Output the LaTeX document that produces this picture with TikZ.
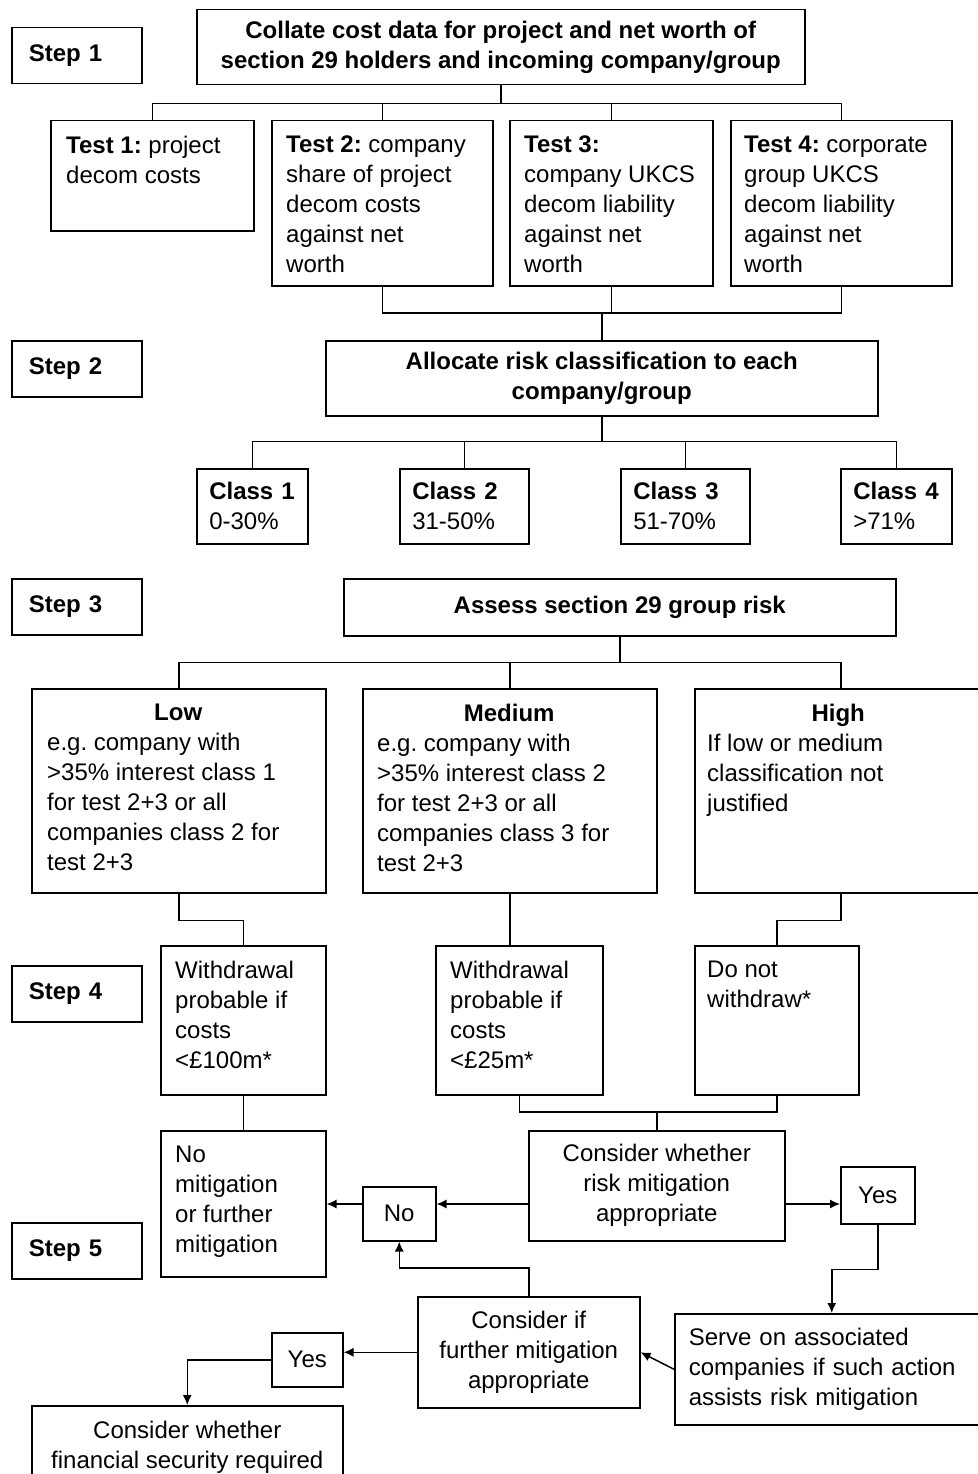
\documentclass[tikz,border=0pt]{standalone}
\usepackage{fontspec}
\setmainfont{Liberation Sans}
\usetikzlibrary{arrows.meta}

\tikzset{
  box/.style={draw, line width=1.5pt, anchor=north west, inner sep=0pt},
  txt/.style={anchor=north west, align=left, inner sep=0pt},
  link/.style={line width=1.5pt},
  arr/.style={line width=1.5pt, -{Latex[length=10pt,width=9pt]}},
}

\begin{document}
\begin{tikzpicture}[x=1pt,y=-1pt,font=\fontsize{24pt}{30pt}\selectfont\frenchspacing]
  \useasboundingbox (0,0) rectangle (977,1474);
  % step labels down the left side
  \foreach \s/\y in {1/27,2/340,3/578,4/965,5/1222}
    \node[box, text width=96pt, inner xsep=17pt, minimum height=56pt, align=left] (step\s) at (11,\y) {\textbf{Step \s}};

  % step 1
  \node[box, minimum width=608pt, minimum height=75pt, align=center] (collate) at (196,9)
    {\textbf{Collate cost data for project and net worth of}\\\textbf{section 29 holders and incoming company/group}};
  \node[box, minimum width=203pt, minimum height=110pt] (test1) at (50,120) {};
  \node[box, minimum width=221pt, minimum height=165pt] (test2) at (271,120) {};
  \node[box, minimum width=203pt, minimum height=165pt] (test3) at (509,120) {};
  \node[box, minimum width=221pt, minimum height=165pt] (test4) at (730,120) {};
  \node[txt] (test1txt) at ([shift={(16pt,-16pt)}]test1.north west) {\textbf{Test 1:} project\\decom costs};
  \node[txt] (test2txt) at ([shift={(15pt,-16pt)}]test2.north west) {\textbf{Test 2:} company\\share of project\\decom costs\\against net\\worth};
  \node[txt] (test3txt) at ([shift={(15pt,-16pt)}]test3.north west) {\textbf{Test 3:}\\company UKCS\\decom liability\\against net\\worth};
  \node[txt] (test4txt) at ([shift={(14pt,-16pt)}]test4.north west) {\textbf{Test 4:} corporate\\group UKCS\\decom liability\\against net\\worth};

  % step 2
  \node[box, minimum width=552pt, minimum height=75pt, align=center] (alloc) at (325,340)
    {\textbf{Allocate risk classification to each}\\\textbf{company/group}};
  \foreach \n/\x/\tw/\p in {1/196/86/0-30\%,2/399/104/31-50\%,3/620/104/51-70\%,4/840/86/>71\%}
    \node[box, text width=\tw pt, inner xsep=12.5pt, minimum height=75pt, align=left] (class\n) at (\x,468) {\textbf{Class \n}\\\p};

  % step 3
  \node[box, minimum width=552pt, minimum height=57pt, align=center] (assess) at (343,578) {\textbf{Assess section 29 group risk}};
  \node[box, minimum width=294pt, minimum height=204pt] (low) at (31,688) {};
  \node[box, minimum width=294pt, minimum height=204pt] (medium) at (362,688) {};
  \node[box, minimum width=292pt, minimum height=204pt] (high) at (694,688) {};
  \node[txt] (lowtxt) at ([shift={(16pt,-16pt)}]low.north west)
    {\makebox[262pt]{\textbf{Low}}\\e.g. company with\\>35\% interest class 1\\for test 2+3 or all\\companies class 2 for\\test 2+3};
  \node[txt] (mediumtxt) at ([shift={(15pt,-16pt)}]medium.north west)
    {\makebox[264pt]{\textbf{Medium}}\\e.g. company with\\>35\% interest class 2\\for test 2+3 or all\\companies class 3 for\\test 2+3};
  \node[txt] (hightxt) at ([shift={(13pt,-16pt)}]high.north west)
    {\makebox[262pt]{\textbf{High}}\\If low or medium\\classification not\\justified};

  % step 4
  \node[box, minimum width=165pt, minimum height=149pt] (wd1) at (160,945) {};
  \node[box, minimum width=167pt, minimum height=149pt] (wd2) at (435,945) {};
  \node[box, minimum width=164pt, minimum height=149pt] (donot) at (694,945) {};
  \node[txt] (wd1txt) at ([shift={(15pt,-16pt)}]wd1.north west) {Withdrawal\\probable if\\costs\\<£100m*};
  \node[txt] (wd2txt) at ([shift={(15pt,-16pt)}]wd2.north west) {Withdrawal\\probable if\\costs\\<£25m*};
  \node[txt] (donottxt) at ([shift={(13pt,-16pt)}]donot.north west) {Do not\\withdraw*};

  % step 5
  \node[box, minimum width=165pt, minimum height=146pt] (nomit) at (160,1130) {};
  \node[txt] (nomittxt) at ([shift={(15pt,-16pt)}]nomit.north west) {No\\mitigation\\or further\\mitigation};
  \node[box, minimum width=256pt, minimum height=110pt, align=center] (consider) at (528,1130) {Consider whether\\risk mitigation\\appropriate};
  \node[box, minimum width=73pt, minimum height=54pt] (no) at (362,1186) {No};
  \node[box, minimum width=74pt, minimum height=57pt] (yes) at (840,1166) {Yes};
  \node[box, minimum width=222pt, minimum height=111pt, align=center] (further) at (417,1296) {Consider if\\further mitigation\\appropriate};
  \node[box, text width=286pt, inner xsep=14pt, minimum height=111pt, align=left] (serve) at (674,1313)
    {Serve on associated\\companies if such action\\assists risk mitigation};
  \node[box, minimum width=71pt, minimum height=54pt] (yes2) at (271,1332) {Yes};
  \node[box, minimum width=311pt, minimum height=90pt] (fin) at (31,1405) {};
  \node[txt, anchor=north, align=center] (fintxt) at ([yshift=-16pt]fin.north) {Consider whether\\financial security required};

  % connectors
  \foreach \t in {test1,test2,test3,test4}
    \draw[link] (collate.south) -- ++(0,18) -| (\t.north);
  \foreach \t in {test2,test3,test4}
    \draw[link] (\t.south) |- ([yshift=27pt]alloc.north) -- (alloc.north);
  \foreach \n in {1,...,4}
    \draw[link] (alloc.south) -- ++(0,25) -| (class\n.north);
  \foreach \t in {low,medium,high}
    \draw[link] (assess.south) -- ++(0,26) -| (\t.north);
  \draw[link] (low.south) -- ++(0,27) -| (wd1.north);
  \draw[link] (medium.south) -- (medium.south |- wd2.north);
  \draw[link] (high.south) -- ++(0,27) -| (donot.north);
  \foreach \t in {wd2,donot}
    \draw[link] (\t.south) |- ([yshift=18pt]consider.north) -- (consider.north);
  \draw[link] (wd1.south) -- (nomit.north);

  \coordinate (midY) at (0,1204);
  \draw[arr] (consider.west |- midY) -- (no.east |- midY);
  \draw[arr] (no.west |- midY) -- (nomit.east |- midY);
  \draw[arr] (consider.east |- midY) -- (yes.west |- midY);
  \draw[arr] (yes.south) -- ++(0,45) -| (serve.north);
  \draw[arr] (serve.west) -- (further.east);
  \draw[arr] (further.north) -- ++(0,-28) -| (no.south);
  \draw[arr] (further.west) -- (further.west -| yes2.east);
  \draw[arr] (yes2.west) -| (fin.north);
\end{tikzpicture}
\end{document}
